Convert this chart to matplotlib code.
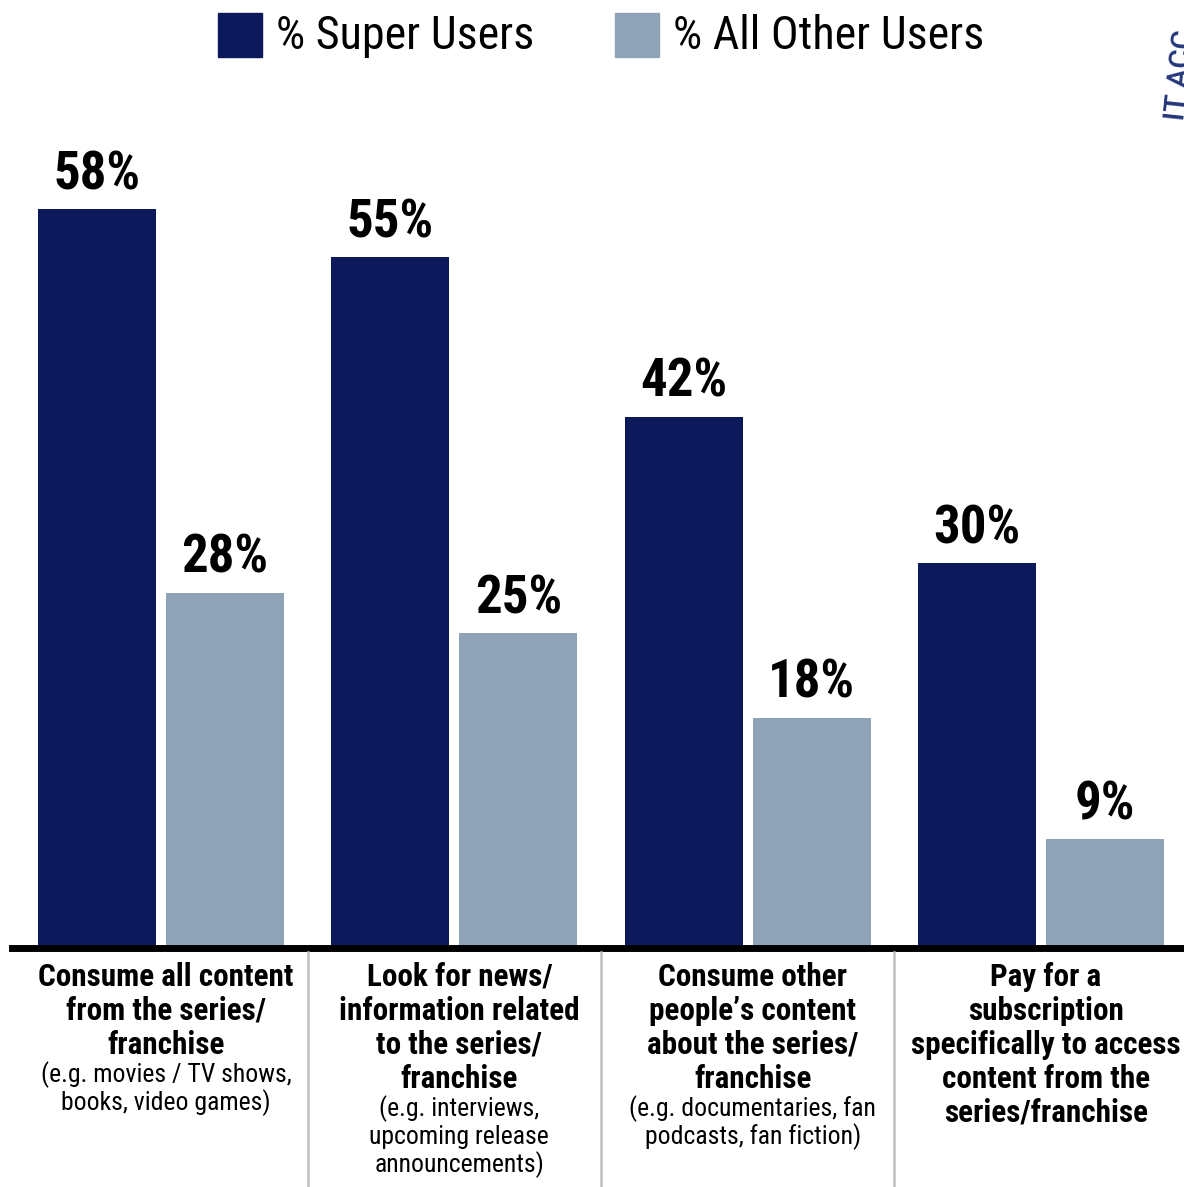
import matplotlib.pyplot as plt
import numpy as np
from matplotlib.patches import Rectangle

plt.rcParams["font.family"] = ["Roboto Condensed", "DejaVu Sans"]

series_names = ["% Super Users", "% All Other Users"]
# bar heights as drawn (labels show the rounded values)
super_users = [58.4, 54.6, 42.0, 30.4]
other_users = [28.1, 24.9, 18.2, 8.6]
category_titles = [
    ["Consume all content", "from the series/", "franchise"],
    ["Look for news/", "information related", "to the series/", "franchise"],
    ["Consume other", "people\u2019s content", "about the series/", "franchise"],
    ["Pay for a", "subscription", "specifically to access", "content from the", "series/franchise"],
]
category_notes = [
    ["(e.g. movies / TV shows,", "books, video games)"],
    ["(e.g. interviews,", "upcoming release", "announcements)"],
    ["(e.g. documentaries, fan", "podcasts, fan fiction)"],
    [],
]

navy = "#0c1a5b"
grey = "#8fa3b7"
W, H, DPI = 1184, 1187, 100
PT = 72 / DPI  # points per pixel

fig = plt.figure(figsize=(W / DPI, H / DPI), dpi=DPI)
base_px = 948
top_px = 62.5
ax = fig.add_axes([12 / W, 1 - base_px / H, 1172 / W, (base_px - top_px) / H])

x = np.arange(len(super_users))
width = 0.402
offset = 0.218
ax.bar(x - offset, super_users, width, color=navy)
ax.bar(x + offset, other_users, width, color=grey)
ax.set_xlim(-0.508, 3.4876)
ax.set_ylim(0, 70)
ax.axis("off")
ax.axhline(0, color="black", linewidth=5, clip_on=False)

for xs, vals in ((x - offset, super_users), (x + offset, other_users)):
    for xi, v in zip(xs, vals):
        ax.annotate(f"{v:.0f}%", (xi, v), xytext=(0, 20 * PT), textcoords="offset points",
                    ha="center", va="baseline", fontsize=38, fontweight="bold")

# separators between groups
for sx in x[:-1] + 0.5:
    ax.plot([sx, sx], [-4 / 12.65, -245 / 12.65], color="#c0c0c0", linewidth=1.8, clip_on=False)

# category labels (bold title lines, regular note lines), nudged 5px right like the original
dx = 5 * PT
for xi, title, note in zip(x, category_titles, category_notes):
    y = 977 - base_px
    for line in title:
        ax.annotate(line, (xi, 0), xytext=(dx, -y * PT), textcoords="offset points",
                    ha="center", va="center", fontsize=22.4, fontweight="bold")
        last = y
        y += 34
    y = last + 30
    for line in note:
        ax.annotate(line, (xi, 0), xytext=(dx, -y * PT), textcoords="offset points",
                    ha="center", va="center", fontsize=18.5)
        y += 28

# legend
for name, color, lx in zip(series_names, [navy, grey], [218, 615]):
    fig.patches.append(Rectangle((lx / W, 1 - 57 / H), 44 / W, 44 / H, color=color,
                                 transform=fig.transFigure, figure=fig))
    fig.text((lx + 58) / W, 1 - 36 / H, name, ha="left", va="center", fontsize=33.2)

# cropped seal text at top right
fig.text(1181 / W, 1 - 75 / H, "IT ACC", rotation=84, ha="center", va="center",
         fontsize=21, fontweight="medium", color="#24367a", family=["Roboto", "DejaVu Sans"])

fig.savefig("out.png", dpi=DPI)
